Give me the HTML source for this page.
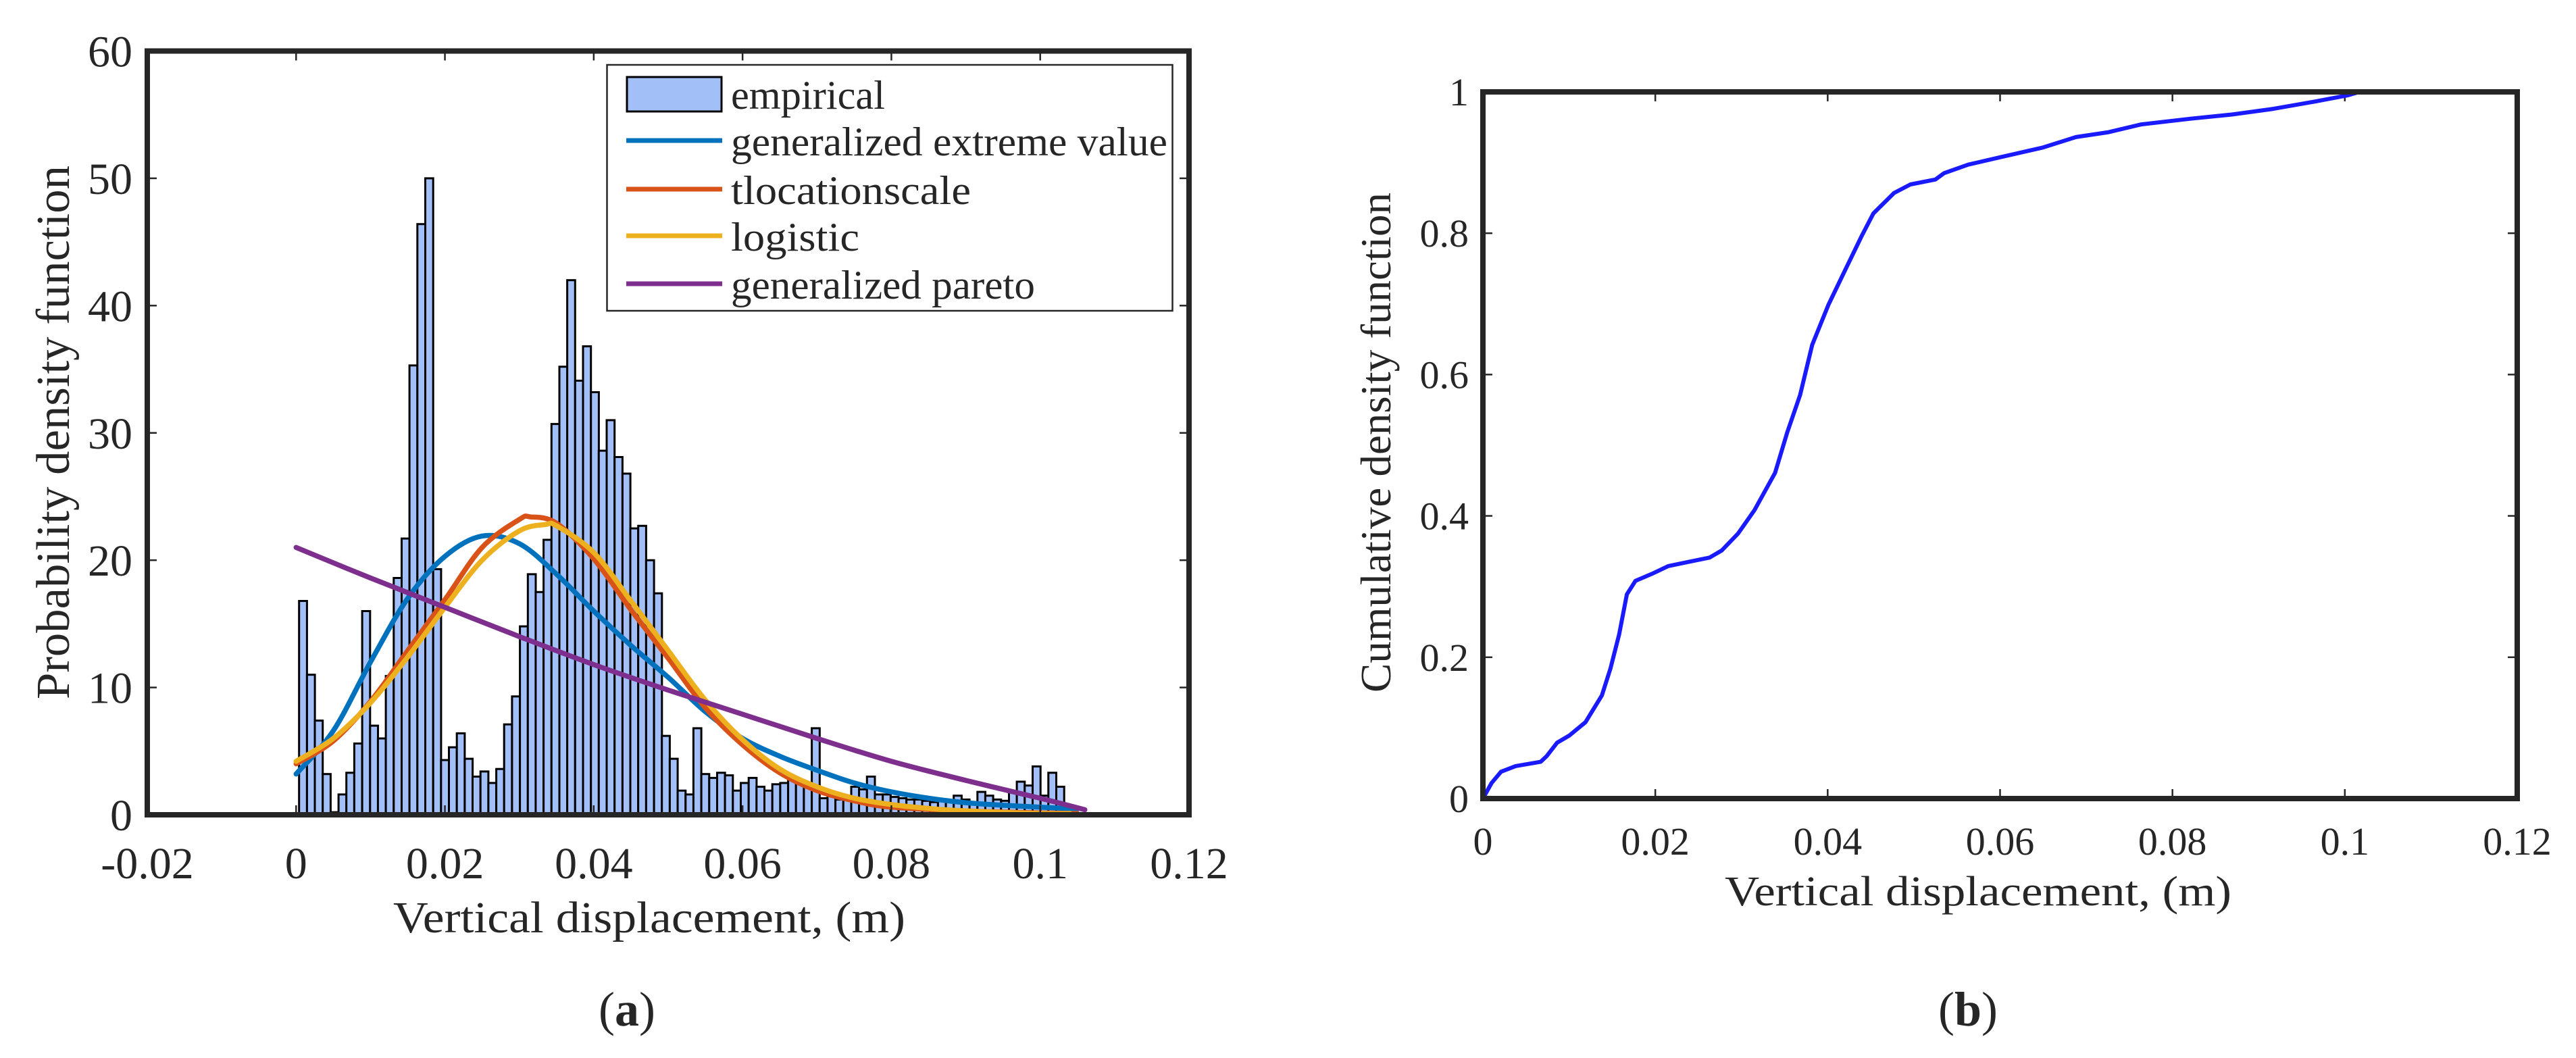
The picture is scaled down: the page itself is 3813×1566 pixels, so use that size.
<!DOCTYPE html>
<html>
<head>
<meta charset="utf-8">
<style>
  html, body { margin: 0; padding: 0; background: #fff; }
  svg { display: block; }
  text { font-family: "Liberation Serif", serif; fill: #262626; }
</style>
</head>
<body>
<svg id="fig" width="3813" height="1566" viewBox="0 0 3813 1566" xmlns="http://www.w3.org/2000/svg">
  <rect x="0" y="0" width="3813" height="1566" fill="#fff"/>
  <g id="plotA"></g>
  <g id="plotB"></g>
</svg>
<script>
// ---------- Chart (a) data ----------
const histStart = 0.0004;
const histBinWidth = 0.00106;
const histValues = [16.8, 11.0, 7.4, 3.2, 0.2, 1.6, 3.3, 5.6, 16.0, 7.0,
  6.0, 10.9, 18.6, 21.7, 35.3, 46.4, 50.0, 19.3, 4.3, 5.3,
  6.4, 4.4, 3.0, 3.4, 2.5, 3.6, 7.1, 9.3, 14.8, 18.9,
  17.5, 21.6, 30.7, 35.2, 42.0, 34.1, 36.8, 33.2, 28.6, 31.0,
  28.1, 26.8, 22.5, 22.7, 20.0, 17.4, 6.2, 4.4, 1.9, 1.6,
  6.8, 3.2, 2.9, 3.3, 3.1, 1.9, 2.5, 2.9, 2.2, 1.9,
  2.4, 2.5, 2.9, 2.7, 2.5, 6.8, 1.3, 1.8, 1.2, 1.4,
  2.2, 2.0, 3.0, 1.6, 1.6, 1.4, 1.3, 1.2, 1.2, 1.1,
  1.0, 1.1, 1.0, 1.5, 1.2, 0.9, 1.8, 1.5, 1.2, 1.1,
  1.8, 2.6, 2.3, 3.8, 1.5, 3.3, 2.2];
const gevX = [0, 0.005, 0.01, 0.015, 0.02, 0.025, 0.03, 0.035, 0.04, 0.045, 0.05, 0.055, 0.06, 0.065, 0.07, 0.075, 0.08, 0.085, 0.09, 0.095, 0.1, 0.105];
const gevY = [3.2, 6.6, 12.0, 17.0, 20.3, 21.9, 21.3, 18.9, 16.0, 13.3, 10.8, 8.1, 6.0, 4.6, 3.5, 2.5, 1.8, 1.3, 0.95, 0.75, 0.6, 0.45];
const tlsX = [0, 0.005, 0.01, 0.015, 0.02, 0.025, 0.03, 0.0315, 0.035, 0.04, 0.045, 0.05, 0.055, 0.06, 0.065, 0.07, 0.075, 0.08, 0.09, 0.1, 0.105];
const tlsY = [4.0, 5.8, 8.9, 12.9, 16.9, 21.0, 23.2, 23.4, 22.9, 20.1, 16.1, 12.3, 8.4, 5.5, 3.3, 1.9, 1.1, 0.6, 0.3, 0.15, 0.1];
const logX = [0, 0.005, 0.01, 0.015, 0.02, 0.025, 0.03, 0.0335, 0.035, 0.04, 0.045, 0.05, 0.055, 0.06, 0.065, 0.07, 0.075, 0.08, 0.085, 0.09, 0.1, 0.104];
const logY = [4.2, 6.0, 8.8, 12.4, 16.3, 20.0, 22.3, 22.8, 22.7, 20.6, 16.8, 12.9, 9.0, 5.9, 3.6, 2.2, 1.3, 0.8, 0.5, 0.3, 0.1, 0.1];
const gpX = [0, 0.01, 0.02, 0.03, 0.04, 0.05, 0.06, 0.07, 0.08, 0.09, 0.1, 0.106];
const gpY = [21.0, 18.6, 16.3, 14.0, 11.8, 9.8, 7.9, 6.0, 4.2, 2.7, 1.3, 0.4];
const aXTicks = [-0.02, 0, 0.02, 0.04, 0.06, 0.08, 0.1, 0.12];
const aXTickLabels = ["-0.02", "0", "0.02", "0.04", "0.06", "0.08", "0.1", "0.12"];
const aYTicks = [0, 10, 20, 30, 40, 50, 60];
const aYTickLabels = ["0", "10", "20", "30", "40", "50", "60"];
const legendLabels = ["empirical", "generalized extreme value", "tlocationscale", "logistic", "generalized pareto"];

// ---------- Chart (b) data ----------
const cdfX = [0, 0.001, 0.0021, 0.0038, 0.0067, 0.0074, 0.0086, 0.01, 0.0119, 0.0138, 0.0148, 0.0158, 0.0167, 0.0177, 0.0196, 0.0215, 0.0239, 0.0263, 0.0277, 0.0296, 0.0315, 0.0339, 0.0353, 0.0368, 0.0382, 0.0401, 0.042, 0.0439, 0.0453, 0.0477, 0.0496, 0.0525, 0.0535, 0.0563, 0.0602, 0.0649, 0.0688, 0.0726, 0.0764, 0.0821, 0.0869, 0.0917, 0.0964, 0.1003, 0.1017, 0.105];
const cdfY = [0, 0.022, 0.038, 0.046, 0.052, 0.06, 0.079, 0.089, 0.108, 0.146, 0.184, 0.232, 0.289, 0.308, 0.318, 0.329, 0.335, 0.341, 0.351, 0.375, 0.408, 0.461, 0.518, 0.571, 0.642, 0.699, 0.747, 0.795, 0.828, 0.857, 0.869, 0.876, 0.885, 0.897, 0.908, 0.921, 0.936, 0.943, 0.954, 0.962, 0.968, 0.976, 0.986, 0.995, 1.0, 1.0];
const bXTicks = [0, 0.02, 0.04, 0.06, 0.08, 0.1, 0.12];
const bXTickLabels = ["0", "0.02", "0.04", "0.06", "0.08", "0.1", "0.12"];
const bYTicks = [0, 0.2, 0.4, 0.6, 0.8, 1];
const bYTickLabels = ["0", "0.2", "0.4", "0.6", "0.8", "1"];

const NS = "http://www.w3.org/2000/svg";
function mk(parent, tag, attrs, txt) {
  const e = document.createElementNS(NS, tag);
  for (const k in attrs) e.setAttribute(k, attrs[k]);
  if (txt !== undefined) e.textContent = txt;
  parent.appendChild(e);
  return e;
}
function linePath(xs, ys, sx, sy) {
  return xs.map((v, i) => (i ? "L" : "M") + sx(v).toFixed(1) + "," + sy(ys[i]).toFixed(1)).join(" ");
}
function smoothPath(xs, ys, sx, sy) {
  const P = xs.map((v, i) => [sx(v), sy(ys[i])]);
  let d = "M" + P[0][0].toFixed(1) + "," + P[0][1].toFixed(1);
  for (let i = 0; i < P.length - 1; i++) {
    const p0 = P[Math.max(0, i - 1)], p1 = P[i], p2 = P[i + 1], p3 = P[Math.min(P.length - 1, i + 2)];
    const c1 = [p1[0] + (p2[0] - p0[0]) / 6, p1[1] + (p2[1] - p0[1]) / 6];
    const c2 = [p2[0] - (p3[0] - p1[0]) / 6, p2[1] - (p3[1] - p1[1]) / 6];
    d += " C" + c1[0].toFixed(1) + "," + c1[1].toFixed(1) + " " + c2[0].toFixed(1) + "," + c2[1].toFixed(1) + " " + p2[0].toFixed(1) + "," + p2[1].toFixed(1);
  }
  return d;
}

// ---------- Plot A ----------
(function () {
  const g = document.getElementById("plotA");
  const L = 218, R = 1760, T = 75.5, B = 1206;
  const sx = v => L + (v - (-0.02)) / 0.14 * (R - L);
  const sy = v => B - v / 60 * (B - T);

  const bars = mk(g, "g", {});
  
  
  histValues.forEach((v, i) => {
    const x0 = sx(histStart + i * histBinWidth), x1 = sx(histStart + (i + 1) * histBinWidth);
    const r = mk(bars, "rect", {x: x0.toFixed(1), y: sy(v).toFixed(1), width: (x1 - x0).toFixed(1), height: (sy(0) - sy(v)).toFixed(1), fill: "#a2bff7", stroke: "#000", "stroke-width": 3});
    
    
  });

  const curves = [[gevX, gevY, "#0072BD", "gev-curve"], [tlsX, tlsY, "#D95319", "tlocationscale-curve"], [logX, logY, "#EDB120", "logistic-curve"], [gpX, gpY, "#7E2F8E", "generalized-pareto-curve"]];
  curves.forEach(c => {
    const p = mk(g, "path", {d: smoothPath(c[0], c[1], sx, sy), fill: "none", stroke: c[2], "stroke-width": 7.5, "stroke-linejoin": "round", "stroke-linecap": "round"});
    
    
  });

  const ticks = mk(g, "g", {stroke: "#262626", "stroke-width": 2.5});
  aXTicks.forEach(t => {
    mk(ticks, "line", {x1: sx(t), x2: sx(t), y1: B, y2: B - 14});
    mk(ticks, "line", {x1: sx(t), x2: sx(t), y1: T, y2: T + 14});
  });
  aYTicks.forEach(t => {
    mk(ticks, "line", {x1: L, x2: L + 14, y1: sy(t), y2: sy(t)});
    mk(ticks, "line", {x1: R, x2: R - 14, y1: sy(t), y2: sy(t)});
  });
  const frame = mk(g, "rect", {x: L, y: T, width: R - L, height: B - T, fill: "none", stroke: "#262626", "stroke-width": 8});
  
  

  aXTicks.forEach((t, i) => {
    const tx = mk(g, "text", {x: sx(t), y: 1300, "font-size": 66, "text-anchor": "middle"}, aXTickLabels[i]);
    
    
  });
  aYTicks.forEach((t, i) => {
    const tx = mk(g, "text", {x: 196, y: sy(t) + 23, "font-size": 66, "text-anchor": "end"}, aYTickLabels[i]);
    
    
  });
  const xt = mk(g, "text", {x: 961, y: 1380, "font-size": 66, "text-anchor": "middle", textLength: 758, lengthAdjust: "spacingAndGlyphs"}, "Vertical displacement,  (m)");
  
  
  const yt = mk(g, "text", {x: 0, y: 0, "font-size": 70, "text-anchor": "middle", textLength: 790, lengthAdjust: "spacingAndGlyphs", transform: "translate(102,640) rotate(-90)"}, "Probability density function");
  
  
  const cap = mk(g, "text", {x: 928, y: 1518, "font-size": 72, "text-anchor": "middle", fill: "#000"});
  
  
  mk(cap, "tspan", {}, "(");
  mk(cap, "tspan", {"font-weight": "bold"}, "a");
  mk(cap, "tspan", {}, ")");

  const lg = mk(g, "g", {});
  
  
  mk(lg, "rect", {x: 898.5, y: 96, width: 837, height: 364, fill: "#fff", stroke: "#262626", "stroke-width": 2.5});
  const rowY = [139, 208, 280, 349, 420];
  const colors = [null, "#0072BD", "#D95319", "#EDB120", "#7E2F8E"];
  const widths = [228, 646, 355, 190, 450];
  legendLabels.forEach((lab, i) => {
    const ent = mk(lg, "g", {});
    
    
    if (i === 0) mk(ent, "rect", {x: 928, y: 114, width: 140, height: 51, fill: "#a2bff7", stroke: "#000", "stroke-width": 3});
    else mk(ent, "line", {x1: 927, x2: 1069, y1: rowY[i], y2: rowY[i], stroke: colors[i], "stroke-width": 7});
    mk(ent, "text", {x: 1082, y: rowY[i] + 22, "font-size": 60, fill: "#000", textLength: widths[i], lengthAdjust: "spacingAndGlyphs"}, lab);
  });
})();

// ---------- Plot B ----------
(function () {
  const g = document.getElementById("plotB");
  const L = 2195, R = 3726, T = 136, B = 1182;
  const sx = v => L + v / 0.12 * (R - L);
  const sy = v => B - v * (B - T);

  const ticks = mk(g, "g", {stroke: "#262626", "stroke-width": 2.5});
  bXTicks.forEach(t => {
    mk(ticks, "line", {x1: sx(t), x2: sx(t), y1: B, y2: B - 14});
    mk(ticks, "line", {x1: sx(t), x2: sx(t), y1: T, y2: T + 14});
  });
  bYTicks.forEach(t => {
    mk(ticks, "line", {x1: L, x2: L + 14, y1: sy(t), y2: sy(t)});
    mk(ticks, "line", {x1: R, x2: R - 14, y1: sy(t), y2: sy(t)});
  });
  const p = mk(g, "path", {d: linePath(cdfX, cdfY, sx, sy), fill: "none", stroke: "#1a1aff", "stroke-width": 6, "stroke-linejoin": "round"});
  
  
  const frame = mk(g, "rect", {x: L, y: T, width: R - L, height: B - T, fill: "none", stroke: "#262626", "stroke-width": 8});
  
  

  bXTicks.forEach((t, i) => {
    const tx = mk(g, "text", {x: sx(t), y: 1265, "font-size": 58, "text-anchor": "middle"}, bXTickLabels[i]);
    
    
  });
  bYTicks.forEach((t, i) => {
    const tx = mk(g, "text", {x: 2174, y: sy(t) + 20, "font-size": 58, "text-anchor": "end"}, bYTickLabels[i]);
    
    
  });
  const xt = mk(g, "text", {x: 2928, y: 1340, "font-size": 62, "text-anchor": "middle", textLength: 750, lengthAdjust: "spacingAndGlyphs"}, "Vertical displacement,  (m)");
  
  
  const yt = mk(g, "text", {x: 0, y: 0, "font-size": 64, "text-anchor": "middle", textLength: 740, lengthAdjust: "spacingAndGlyphs", transform: "translate(2058,655) rotate(-90)"}, "Cumulative density function");
  
  
  const cap = mk(g, "text", {x: 2913, y: 1518, "font-size": 72, "text-anchor": "middle", fill: "#000"});
  
  
  mk(cap, "tspan", {}, "(");
  mk(cap, "tspan", {"font-weight": "bold"}, "b");
  mk(cap, "tspan", {}, ")");
})();
</script>
</body>
</html>
